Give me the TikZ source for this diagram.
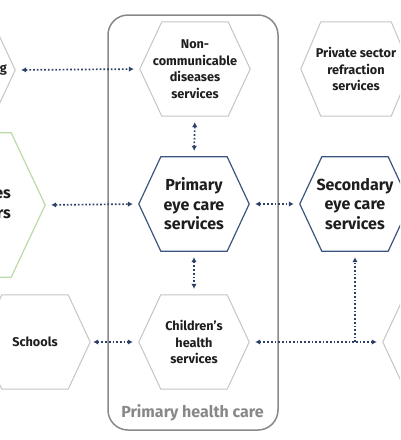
\documentclass[tikz,border=0pt]{standalone}
\usepackage{fontspec}
\setmainfont{Fira Sans}
\usetikzlibrary{arrows.meta}

\definecolor{ink}{HTML}{1E1E1E}
\definecolor{navy}{HTML}{2C4068}
\definecolor{hexgray}{HTML}{C4C4C4}
\definecolor{hexblue}{HTML}{3B557F}
\definecolor{hexgreen}{HTML}{BCD9A9}
\definecolor{framegray}{HTML}{888888}

% outline of a hexagon round a named node: [slant]{style}{node}
\newcommand{\hexline}[3][22]{%
  \draw[#2] (#3.west) -- ([xshift=#1pt]#3.north west) -- ([xshift=-#1pt]#3.north east)
    -- (#3.east) -- ([xshift=-#1pt]#3.south east) -- ([xshift=#1pt]#3.south west) -- cycle;}

\begin{document}
\begin{tikzpicture}[x=1pt, y=-1pt,
        hexbox/.style={minimum width=110pt, minimum height=94pt, inner sep=0pt, align=center,
            text=ink, font=\fontsize{12.7}{16.5}\selectfont\bfseries},
        bighex/.style={hexbox, font=\fontsize{16}{19.5}\selectfont\bfseries},
        link/.style={navy, line width=1.7pt, dash pattern=on 1.7pt off 2pt,
            {Latex[length=5pt,width=5.5pt]}-{Latex[length=5pt,width=5.5pt]},
            shorten <=6pt, shorten >=6pt}
    ]
    \useasboundingbox (0,0) rectangle (400,440);
    \clip (0,0) rectangle (400,440);

    % primary health care frame
    \node[draw=framegray, line width=1.5pt, rounded corners=20pt,
        minimum width=170pt, minimum height=415pt] (phc) at (193,222.5) {};
    \node[text=framegray, font=\fontsize{16}{19}\selectfont\bfseries, anchor=base] (phclbl) at (192.5,417) {Primary health care};

    % hexagons
    \node[hexbox] (scr) at (-40,70) {};
    \node[hexbox, anchor=east, minimum width=0pt, minimum height=0pt] (scrtxt) at (7,69) {Vision screening};
    \node[hexbox] (ncd) at (195,69) {Non-\\communicable\\diseases\\services};
    \node[hexbox] (priv) at (356,69) {Private sector\\refraction\\services};
    \node[bighex, minimum width=168pt, minimum height=144pt] (soc) at (-39,205) {};
    \node[bighex, anchor=east, align=right, minimum width=0pt, minimum height=0pt] (soctxt) at (11,204) {Social services\\providers};
    \node[bighex] (pec) at (194,204) {Primary\\eye care\\services};
    \node[bighex] (sec) at (355,204) {Secondary\\eye care\\services};
    \node[hexbox] (sch) at (35,342) {Schools};
    \node[hexbox] (chl) at (194,342) {Children's\\health\\services};
    \node[hexbox] (opt) at (438,342) {};

    \hexline{hexgray, line width=1pt}{scr}
    \hexline{hexgray, line width=1pt}{ncd}
    \hexline[20]{hexgray, line width=1pt}{priv}
    \hexline[34]{hexgreen, line width=1.2pt}{soc}
    \hexline{hexblue, line width=1.2pt}{pec}
    \hexline{hexblue, line width=1.2pt}{sec}
    \hexline{hexgray, line width=1pt}{sch}
    \hexline{hexgray, line width=1pt}{chl}
    \hexline{hexgray, line width=1pt}{opt}

    % links
    \draw[link] (scr.east) -- (ncd.west);
    \draw[link] (soc.east) -- (pec.west);
    \draw[link] (pec.east) -- (sec.west);
    \draw[link] (ncd.south) -- (pec.north);
    \draw[link] (pec.south) -- (chl.north);
    \draw[link, shorten <=3pt] (sch.east) -- (chl.west);
    \draw[link] (chl.east) -- (opt.west);
    \coordinate (jn) at (sec.south |- chl.east);
    \draw[link, -{Latex[length=5pt,width=5.5pt]}, shorten <=0pt] (jn) -- (sec.south);
\end{tikzpicture}
\end{document}
